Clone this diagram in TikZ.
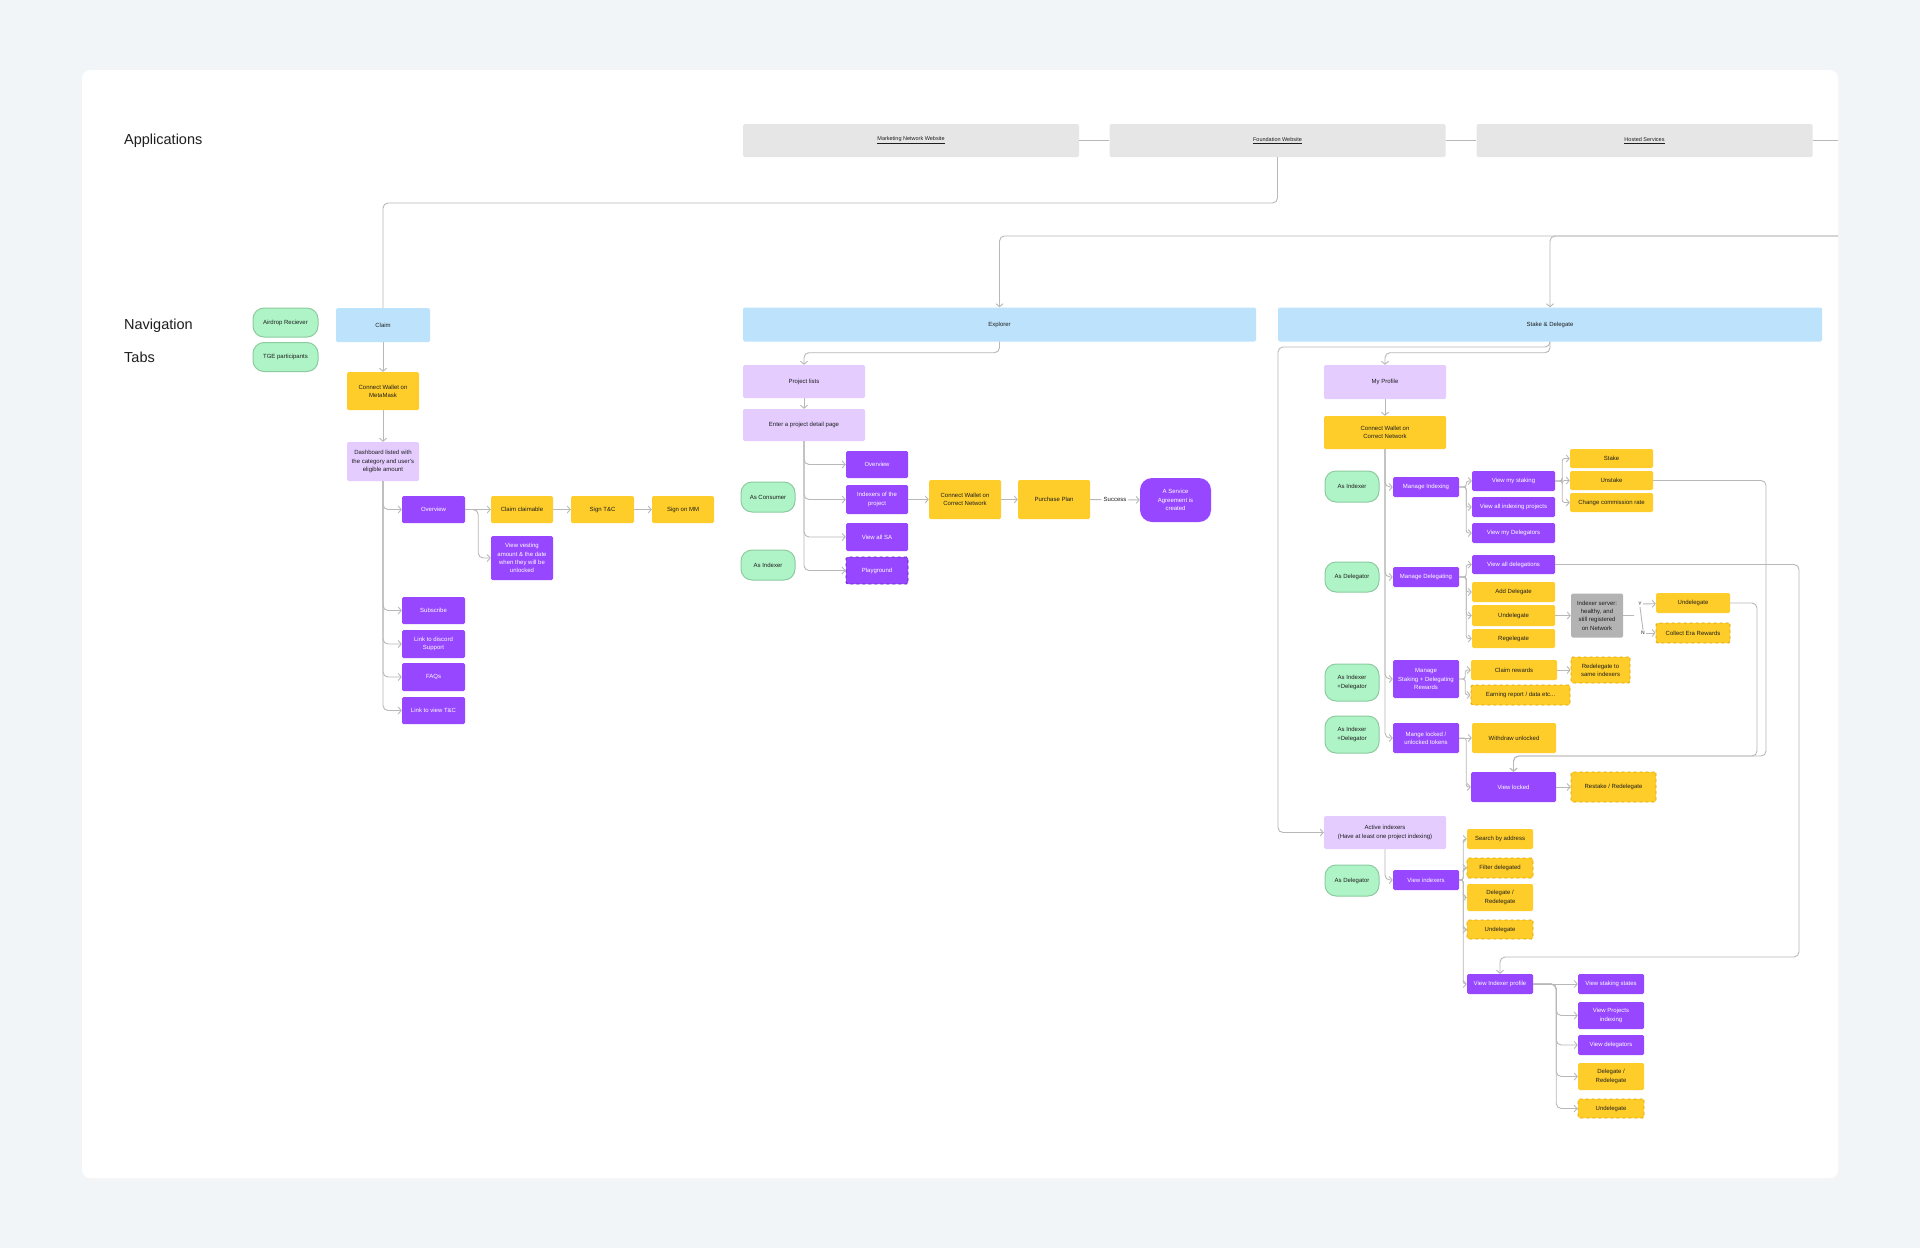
\documentclass[tikz,border=0pt]{standalone}
\usepackage{fontspec}
\setmainfont{Liberation Sans}
\usetikzlibrary{arrows.meta,positioning}
\definecolor{bgGrey}{HTML}{F1F5F8}
\definecolor{inkDark}{HTML}{1E1E1E}
\definecolor{appGrey}{HTML}{E6E6E6}
\definecolor{navBlue}{HTML}{BDE3FC}
\definecolor{pillGreen}{HTML}{AFF4C6}
\definecolor{pillLine}{HTML}{8CCBA0}
\definecolor{mYellow}{HTML}{FFCD29}
\definecolor{mYellowLine}{HTML}{D9A300}
\definecolor{mPurple}{HTML}{9747FF}
\definecolor{mPurpleLine}{HTML}{5C1FB8}
\definecolor{mLilac}{HTML}{E4CCFF}
\definecolor{mStone}{HTML}{B3B3B3}
\definecolor{wireGrey}{HTML}{B8B8B8}

\begin{document}
\begin{tikzpicture}[x=1pt, y=-1pt,
    every node/.style={font=\fontsize{6}{8.3}\selectfont, text=inkDark, align=center, inner sep=1pt},
    boxy/.style={rectangle, rounded corners=1.5pt},
    app/.style={boxy, fill=appGrey, minimum width=336, minimum height=33, font=\fontsize{5.5}{7}\selectfont},
    navtab/.style={boxy, fill=navBlue, minimum height=34},
    pill/.style={rectangle, rounded corners=11pt, fill=pillGreen, draw=pillLine, line width=1pt, minimum width=54, minimum height=30},
    yel/.style={boxy, fill=mYellow},
    yeld/.style={yel, draw=mYellowLine, dashed, line width=0.8pt},
    pur/.style={boxy, fill=mPurple, text=white},
    lil/.style={boxy, fill=mLilac},
    stone/.style={boxy, fill=mStone},
    wire/.style={draw=wireGrey, line width=0.9pt, rounded corners=5pt},
    link/.style={wire, -{Straight Barb[length=3pt,width=7pt]}},
    brace/.style={link, rounded corners=2.5pt},
    section/.style={font=\fontsize{14.5}{17}\selectfont, anchor=west}
  ]
  % Canvas
  \fill[bgGrey] (0,0) rectangle (1920,1248);
  \fill[black!4, rounded corners=8pt] (83,72) rectangle (1839,1180);
  \fill[white, rounded corners=8pt] (82,70) rectangle (1838,1178);
  \useasboundingbox (0,0) rectangle (1920,1248);

  % Row titles
  \node[section] (tApp) at (123,141) {Applications};
  \node[section] (tNav) at (123,326) {Navigation};
  \node[section] (tTabs) at (123,357) {Tabs};

  % Applications
  \node[app] (mkt) at (911,140.5) {\underline{Marketing Network Website}};
  \node[app] (found) at (1277.5,140.5) {\underline{Foundation Website}};
  \node[app] (hosted) at (1644.5,140.5) {\underline{Hosted Services}};
  \coordinate (appEnd) at (1838,140.5);
  \draw[wire] (mkt) -- (found);
  \draw[wire] (found) -- (hosted);
  \draw[wire] (hosted) -- (appEnd);

  % Navigation
  \node[pill, minimum width=65, minimum height=29] (airdrop) at (285.5,322.5) {Airdrop Reciever};
  \node[pill, minimum width=65, minimum height=29] (tge) at (285.5,357) {TGE participants};
  \node[navtab, minimum width=94] (claim) at (383,325) {Claim};
  \node[navtab, minimum width=513] (explorer) at (999.5,324.5) {Explorer};
  \node[navtab, minimum width=544] (stake) at (1550,324.5) {Stake \& Delegate};
  \coordinate (claimBend) at (383,203);
  \coordinate (navIn) at (1838,236);
  \draw[wire] (found.south) |- (claimBend) -- (claim.north);
  \draw[link] (navIn) -| (explorer.north);
  \draw[link] (navIn) -| (stake.north);

  % Claim
  \node[yel, minimum width=72, minimum height=38] (cwMM) at (383,391) {Connect Wallet on\\MetaMask};
  \node[lil, minimum width=72, minimum height=39] (dash) at (383,461.5) {Dashboard listed with\\the category and user's\\eligible amount};
  \node[pur, minimum width=63, minimum height=27] (cOverview) at (433.5,509.5) {Overview};
  \node[yel, minimum width=62, minimum height=27] (cClaim) at (522,509.5) {Claim claimable};
  \node[yel, minimum width=63, minimum height=27] (cSignTC) at (602.5,509.5) {Sign T\&C};
  \node[yel, minimum width=62, minimum height=27] (cSignMM) at (683,509.5) {Sign on MM};
  \node[pur, minimum width=62, minimum height=44] (cVest) at (522,558) {View vesting\\amount \& the date\\when they will be\\unlocked};
  \node[pur, minimum width=63, minimum height=27] (cSub) at (433.5,610.5) {Subscribe};
  \node[pur, minimum width=63, minimum height=28] (cDiscord) at (433.5,644) {Link to discord\\Support};
  \node[pur, minimum width=63, minimum height=28] (cFaq) at (433.5,677) {FAQs};
  \node[pur, minimum width=63, minimum height=27] (cTC) at (433.5,710.5) {Link to view T\&C};
  \draw[link] (claim) -- (cwMM);
  \draw[link] (cwMM) -- (dash);
  \foreach \t in {cOverview,cSub,cDiscord,cFaq,cTC}
    \draw[link] (dash.south) |- (\t.west);
  \draw[link] (cOverview) -- (cClaim);
  \draw[link] (cClaim) -- (cSignTC);
  \draw[link] (cSignTC) -- (cSignMM);
  \draw[link] (cOverview.east) -- ++(13,0) |- (cVest.west);

  % Explorer
  \node[lil, minimum width=122, minimum height=33] (pList) at (804,381.5) {Project lists};
  \node[lil, minimum width=122, minimum height=32] (pDetail) at (804,425) {Enter a project detail page};
  \node[pill] (asCons) at (768,497) {As Consumer};
  \node[pill] (asIdx) at (768,565) {As Indexer};
  \node[pur, minimum width=62, minimum height=27] (eOverview) at (877,464.5) {Overview};
  \node[pur, minimum width=62, minimum height=29] (eIndexers) at (877,499.5) {Indexers of the\\project};
  \node[pur, minimum width=62, minimum height=28] (eSA) at (877,537) {View all SA};
  \node[pur, draw=mPurpleLine, dashed, line width=0.8pt, minimum width=62, minimum height=27] (ePlay) at (877,570.5) {Playground};
  \node[yel, minimum width=72, minimum height=39] (eWallet) at (965,499.5) {Connect Wallet on\\Correct Network};
  \node[yel, minimum width=72, minimum height=39] (ePlan) at (1054,499.5) {Purchase Plan};
  \node[pur, rounded corners=12pt, minimum width=71, minimum height=44] (eAgree) at (1175.5,500) {A Service\\Agreement is\\created};
  \draw[link] (explorer.south) -- ++(0,11) -| (pList.north);
  \draw[link] (pList) -- (pDetail);
  \foreach \t in {eOverview,eIndexers,eSA,ePlay}
    \draw[link] (pDetail.south) |- (\t.west);
  \draw[link] (eIndexers) -- (eWallet);
  \draw[link] (eWallet) -- (ePlan);
  \draw[link] (ePlan) -- node[fill=white, inner xsep=2pt] (success) {Success} (eAgree);

  % Stake & Delegate
  \node[lil, minimum width=122, minimum height=34] (myProfile) at (1385,382) {My Profile};
  \node[yel, minimum width=122, minimum height=33] (sWallet) at (1385,432.5) {Connect Wallet on\\Correct Network};
  \node[pill, minimum height=31] (sIdx) at (1352,486.5) {As Indexer};
  \node[pill, minimum height=30] (sDel) at (1352,577) {As Delegator};
  \node[pill, minimum height=37] (sIdxDel) at (1352,682.5) {As Indexer\\+Delegator};
  \node[pill, minimum height=37] (sIdxDel2) at (1352,734.5) {As Indexer\\+Delegator};
  % manage column
  \node[pur, minimum width=66, minimum height=20] (mIndexing) at (1426,487) {Manage Indexing};
  \node[pur, minimum width=66, minimum height=20] (mDeleg) at (1426,577) {Manage Delegating};
  \node[pur, minimum width=66, minimum height=38] (mRewards) at (1426,679) {Manage\\Staking + Delegating\\Rewards};
  \node[pur, minimum width=66, minimum height=30] (mLocked) at (1426,738) {Mange locked /\\unlocked tokens};
  % view column
  \node[pur, minimum width=83, minimum height=20] (vStaking) at (1513.5,481) {View my staking};
  \node[pur, minimum width=83, minimum height=20] (vProjects) at (1513.5,507) {View all indexing projects};
  \node[pur, minimum width=83, minimum height=20] (vDelegators) at (1513.5,533) {View my Delegators};
  \node[pur, minimum width=83, minimum height=19] (vDelegations) at (1513.5,564.5) {View all delegations};
  \node[yel, minimum width=83, minimum height=20] (vAdd) at (1513.5,592) {Add Delegate};
  \node[yel, minimum width=83, minimum height=21] (vUndel) at (1513.5,615.5) {Undelegate};
  \node[yel, minimum width=83, minimum height=19] (vRegel) at (1513.5,638.5) {Regelegate};
  \node[yel, minimum width=86, minimum height=20] (vClaim) at (1514,670) {Claim rewards};
  \node[yeld, minimum width=99, minimum height=20] (vEarning) at (1520.5,695) {Earning report / data etc...};
  \node[yel, minimum width=84, minimum height=30] (vWithdraw) at (1514,738) {Withdraw unlocked};
  \node[pur, minimum width=85, minimum height=30] (vLocked) at (1513.5,787) {View locked};
  % outcome column
  \node[yel, minimum width=83, minimum height=19] (kStake) at (1611.5,458.5) {Stake};
  \node[yel, minimum width=83, minimum height=19] (kUnstake) at (1611.5,480.5) {Unstake};
  \node[yel, minimum width=83, minimum height=19] (kCommission) at (1611.5,502.5) {Change commission rate};
  \node[stone, minimum width=52, minimum height=44] (kServer) at (1597,615.5) {Indexer server:\\healthy, and\\still registered\\on Network};
  \node[font=\fontsize{5}{6}\selectfont] (kYes) at (1640,604) {Y};
  \node[font=\fontsize{5}{6}\selectfont] (kNo) at (1643,633) {N};
  \node[yel, minimum width=74, minimum height=20] (kUndel) at (1693,603) {Undelegate};
  \node[yeld, minimum width=74, minimum height=20] (kCollect) at (1693,633) {Collect Era Rewards};
  \node[yeld, minimum width=59, minimum height=26] (kSame) at (1600.5,670) {Redelegate to\\same indexers};
  \node[yeld, minimum width=85, minimum height=30] (kRestake) at (1613.5,787) {Restake / Redelegate};
  \coordinate (sdBend) at (1278,347);
  \coordinate (kFork) at (1634,615.5);
  \coordinate (retUnstake) at (1766,756);
  \coordinate (retUndel) at (1757,756);
  \coordinate (retDeleg) at (1799,957);
  \draw[link] (stake.south) -- ++(0,11) -| (myProfile.north);
  \draw[link] (myProfile) -- (sWallet);
  \foreach \t in {mIndexing,mDeleg,mRewards,mLocked}
    \draw[link] (sWallet.south) |- (\t.west);
  \foreach \t in {vStaking,vProjects,vDelegators}
    \draw[brace] (mIndexing.east) -- ++(7,0) |- (\t.west);
  \foreach \t in {kStake,kUnstake,kCommission}
    \draw[brace] (vStaking.east) -- ++(7,0) |- (\t.west);
  \foreach \t in {vDelegations,vAdd,vUndel,vRegel}
    \draw[brace] (mDeleg.east) -- ++(7,0) |- (\t.west);
  \draw[link] (vUndel) -- (kServer);
  \draw[wire] (kServer.east) -- (kFork);
  \draw[wire] (kYes.south) -- (kNo.north);
  \draw[link] (kYes) -- (kUndel);
  \draw[link] (kNo) -- (kCollect);
  \foreach \t in {vClaim,vEarning}
    \draw[brace] (mRewards.east) -- ++(6,0) |- (\t.west);
  \draw[link] (vClaim) -- (kSame);
  \draw[link] (mLocked) -- (vWithdraw);
  \draw[brace] (mLocked.east) -- ++(7,0) |- (vLocked.west);
  \draw[link] (vLocked) -- (kRestake);
  \draw[link] (kUnstake.east) -| (retUnstake) -| (vLocked.north);
  \draw[link] (kUndel.east) -| (retUndel) -| (vLocked.north);

  % Active indexers
  \node[lil, minimum width=122, minimum height=33] (active) at (1385,832.5) {Active indexers\\(Have at least one project indexing)};
  \node[pill, minimum height=31] (sDel2) at (1352,880.5) {As Delegator};
  \node[pur, minimum width=66, minimum height=20] (vIndexers) at (1426,880) {View indexers};
  \node[yel, minimum width=66, minimum height=20] (aSearch) at (1500,839) {Search by address};
  \node[yeld, minimum width=66, minimum height=20] (aFilter) at (1500,868) {Filter delegated};
  \node[yel, minimum width=66, minimum height=27] (aDeleg) at (1500,897.5) {Delegate /\\Redelegate};
  \node[yeld, minimum width=66, minimum height=19] (aUndel) at (1500,929.5) {Undelegate};
  \node[pur, minimum width=66, minimum height=20] (vProfile) at (1500,984) {View Indexer profile};
  \node[pur, minimum width=66, minimum height=20] (pStates) at (1611,984) {View staking states};
  \node[pur, minimum width=66, minimum height=27] (pProjects) at (1611,1015.5) {View Projects\\indexing};
  \node[pur, minimum width=66, minimum height=20] (pDelegators) at (1611,1045) {View delegators};
  \node[yel, minimum width=66, minimum height=27] (pDeleg) at (1611,1076.5) {Delegate /\\Redelegate};
  \node[yeld, minimum width=66, minimum height=19] (pUndel) at (1611,1108.5) {Undelegate};
  \draw[link] (stake.south) |- (sdBend) |- (active.west);
  \draw[link] (vDelegations.east) -| (retDeleg) -| (vProfile.north);
  \draw[link] (active.south) |- (vIndexers.west);
  \foreach \t in {aSearch,aFilter,aDeleg,aUndel,vProfile}
    \draw[brace] (vIndexers.east) -- ++(4,0) |- (\t.west);
  \draw[link] (vProfile) -- (pStates);
  \foreach \t in {pProjects,pDelegators,pDeleg,pUndel}
    \draw[link] (vProfile.east) -- ++(23,0) |- (\t.west);
\end{tikzpicture}
\end{document}
